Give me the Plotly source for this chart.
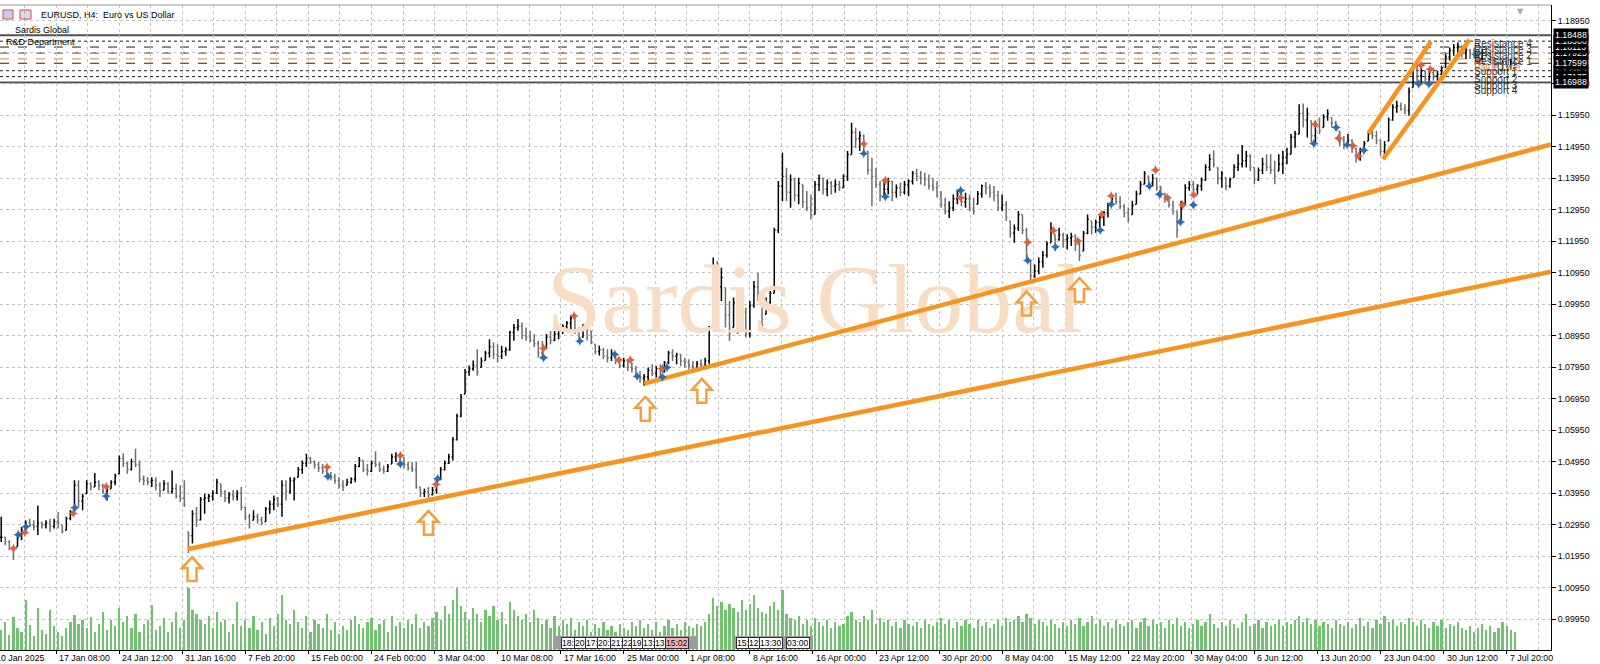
import plotly.graph_objects as go

# ---------------- DATA ----------------
# one bar = two H4 candles; index 0 is the left edge of the chart
low = [1.0240,1.0230,1.0214,1.0183,1.0225,1.0246,1.0267,1.0288,1.0277,1.0262,
       1.0283,1.0283,1.0272,1.0283,1.0283,1.0267,1.0277,1.0309,1.0341,1.0351,
       1.0341,1.0393,1.0404,1.0415,1.0404,1.0393,1.0372,1.0409,1.0420,1.0457,
       1.0478,1.0457,1.0467,1.0478,1.0430,1.0420,1.0420,1.0415,1.0404,1.0383,
       1.0404,1.0393,1.0393,1.0378,1.0367,1.0351,1.0205,1.0235,1.0288,1.0309,
       1.0330,1.0367,1.0372,1.0393,1.0383,1.0367,1.0362,1.0372,1.0372,1.0341,
       1.0309,1.0283,1.0309,1.0298,1.0293,1.0304,1.0330,1.0341,1.0351,1.0320,
       1.0372,1.0393,1.0372,1.0446,1.0457,1.0478,1.0488,1.0473,1.0462,1.0457,
       1.0446,1.0436,1.0425,1.0409,1.0402,1.0420,1.0425,1.0430,1.0478,1.0462,
       1.0451,1.0462,1.0478,1.0462,1.0457,1.0462,1.0488,1.0494,1.0483,1.0473,
       1.0467,1.0462,1.0409,1.0383,1.0383,1.0378,1.0388,1.0393,1.0436,1.0467,
       1.0488,1.0499,1.0562,1.0636,1.0710,1.0768,1.0784,1.0768,1.0795,1.0816,
       1.0826,1.0821,1.0810,1.0821,1.0831,1.0847,1.0879,1.0911,1.0884,1.0879,
       1.0874,1.0858,1.0826,1.0825,1.0857,1.0868,1.0878,1.0884,1.0900,1.0910,
       1.0910,1.0900,1.0878,1.0889,1.0880,1.0868,1.0836,1.0832,1.0821,1.0810,
       1.0815,1.0804,1.0793,1.0794,1.0783,1.0778,1.0762,1.0746,1.0736,1.0751,
       1.0767,1.0762,1.0767,1.0778,1.0804,1.0815,1.0804,1.0799,1.0794,1.0788,
       1.0788,1.0794,1.0794,1.0799,1.0804,1.0930,1.1026,1.1005,1.0921,1.0878,
       1.0921,1.0900,1.0910,1.0889,1.0889,1.0984,1.1005,1.0910,1.0963,1.0974,
       1.1030,1.1220,1.1322,1.1322,1.1301,1.1322,1.1312,1.1301,1.1291,1.1264,
       1.1280,1.1354,1.1343,1.1338,1.1343,1.1349,1.1354,1.1365,1.1386,1.1470,
       1.1491,1.1481,1.1470,1.1407,1.1306,1.1365,1.1322,1.1333,1.1343,1.1322,
       1.1333,1.1338,1.1343,1.1338,1.1375,1.1386,1.1375,1.1370,1.1359,1.1354,
       1.1333,1.1301,1.1280,1.1269,1.1291,1.1312,1.1306,1.1301,1.1291,1.1280,
       1.1312,1.1333,1.1343,1.1333,1.1322,1.1291,1.1291,1.1259,1.1206,1.1190,
       1.1227,1.1217,1.1132,1.1069,1.1079,1.1090,1.1111,1.1143,1.1190,1.1164,
       1.1196,1.1174,1.1169,1.1180,1.1164,1.1132,1.1164,1.1217,1.1217,1.1222,
       1.1233,1.1243,1.1270,1.1307,1.1312,1.1296,1.1270,1.1254,1.1280,1.1312,
       1.1344,1.1376,1.1365,1.1370,1.1355,1.1333,1.1317,1.1302,1.1280,1.1206,
       1.1249,1.1312,1.1355,1.1344,1.1344,1.1355,1.1386,1.1418,1.1429,1.1376,
       1.1365,1.1357,1.1365,1.1397,1.1418,1.1429,1.1429,1.1418,1.1376,1.1386,
       1.1408,1.1418,1.1408,1.1376,1.1418,1.1408,1.1439,1.1471,1.1492,1.1535,
       1.1556,1.1524,1.1508,1.1503,1.1535,1.1556,1.1577,1.1556,1.1545,1.1498,
       1.1487,1.1503,1.1476,1.1445,1.1450,1.1476,1.1513,1.1519,1.1503,1.1466,
       1.1460,1.1513,1.1577,1.1603,1.1609,1.1598,1.1593,1.1683,1.1694,1.1699,
       1.1694,1.1694,1.1704,1.1699,1.1709,1.1746,1.1768,1.1784,1.1789,1.1778,
       1.1773,1.1773,1.1775,1.1765,1.1770,1.1780,1.1760,1.1745,1.1725,1.1735,
       1.1745,1.1740,1.1750]
high = [1.0320,1.0256,1.0246,1.0225,1.0267,1.0288,1.0309,1.0314,1.0309,1.0356,
        1.0304,1.0309,1.0314,1.0314,1.0335,1.0293,1.0320,1.0341,1.0436,1.0436,
        1.0393,1.0436,1.0430,1.0459,1.0436,1.0425,1.0415,1.0436,1.0457,1.0515,
        1.0522,1.0494,1.0504,1.0536,1.0499,1.0451,1.0446,1.0446,1.0446,1.0430,
        1.0436,1.0430,1.0467,1.0425,1.0420,1.0436,1.0272,1.0341,1.0351,1.0383,
        1.0393,1.0393,1.0404,1.0441,1.0425,1.0404,1.0399,1.0404,1.0404,1.0415,
        1.0351,1.0330,1.0341,1.0330,1.0320,1.0351,1.0372,1.0388,1.0383,1.0436,
        1.0436,1.0446,1.0446,1.0478,1.0499,1.0520,1.0510,1.0499,1.0494,1.0488,
        1.0478,1.0462,1.0457,1.0446,1.0436,1.0441,1.0446,1.0488,1.0510,1.0499,
        1.0488,1.0499,1.0528,1.0494,1.0483,1.0488,1.0520,1.0525,1.0520,1.0510,
        1.0494,1.0494,1.0494,1.0415,1.0409,1.0415,1.0415,1.0446,1.0478,1.0499,
        1.0520,1.0573,1.0647,1.0710,1.0789,1.0800,1.0816,1.0852,1.0826,1.0847,
        1.0884,1.0874,1.0868,1.0863,1.0858,1.0911,1.0932,1.0948,1.0937,1.0921,
        1.0911,1.0900,1.0879,1.0878,1.0900,1.0910,1.0910,1.0921,1.0931,1.0942,
        1.0958,1.0952,1.0921,1.0931,1.0925,1.0910,1.0868,1.0864,1.0857,1.0852,
        1.0852,1.0836,1.0820,1.0825,1.0820,1.0810,1.0799,1.0783,1.0773,1.0794,
        1.0804,1.0799,1.0804,1.0815,1.0847,1.0852,1.0841,1.0836,1.0825,1.0820,
        1.0815,1.0815,1.0820,1.0825,1.0926,1.1143,1.1132,1.1111,1.1047,1.1005,
        1.1016,1.1005,1.0995,1.0984,1.1005,1.1069,1.1095,1.1026,1.1016,1.1037,
        1.1238,1.1386,1.1476,1.1428,1.1407,1.1396,1.1396,1.1375,1.1354,1.1343,
        1.1386,1.1407,1.1396,1.1391,1.1386,1.1391,1.1386,1.1407,1.1481,1.1571,
        1.1555,1.1544,1.1534,1.1481,1.1460,1.1428,1.1386,1.1391,1.1396,1.1386,
        1.1375,1.1381,1.1386,1.1391,1.1418,1.1425,1.1418,1.1412,1.1407,1.1396,
        1.1386,1.1354,1.1333,1.1322,1.1343,1.1359,1.1354,1.1349,1.1343,1.1333,
        1.1354,1.1375,1.1383,1.1375,1.1370,1.1354,1.1343,1.1322,1.1259,1.1248,
        1.1291,1.1280,1.1238,1.1132,1.1121,1.1143,1.1164,1.1195,1.1255,1.1217,
        1.1238,1.1222,1.1217,1.1222,1.1217,1.1201,1.1227,1.1280,1.1259,1.1264,
        1.1280,1.1291,1.1317,1.1344,1.1349,1.1338,1.1312,1.1302,1.1323,1.1355,
        1.1386,1.1418,1.1402,1.1408,1.1397,1.1370,1.1349,1.1339,1.1323,1.1291,
        1.1323,1.1376,1.1386,1.1386,1.1376,1.1397,1.1439,1.1471,1.1484,1.1429,
        1.1418,1.1397,1.1397,1.1439,1.1471,1.1500,1.1482,1.1471,1.1429,1.1429,
        1.1460,1.1471,1.1471,1.1450,1.1471,1.1482,1.1492,1.1535,1.1545,1.1630,
        1.1632,1.1619,1.1577,1.1577,1.1588,1.1598,1.1614,1.1588,1.1577,1.1545,
        1.1529,1.1535,1.1519,1.1492,1.1492,1.1513,1.1545,1.1550,1.1545,1.1519,
        1.1513,1.1588,1.1630,1.1641,1.1635,1.1630,1.1683,1.1757,1.1757,1.1752,
        1.1736,1.1741,1.1746,1.1736,1.1752,1.1789,1.1810,1.1821,1.1826,1.1815,
        1.1810,1.1805,1.1810,1.1800,1.1805,1.1815,1.1795,1.1780,1.1765,1.1770,
        1.1780,1.1775,1.1780]
close = [1.0255,1.0240,1.0220,1.0215,1.0260,1.0280,1.0300,1.0295,1.0290,1.0300,
         1.0295,1.0300,1.0290,1.0305,1.0300,1.0275,1.0315,1.0335,1.0420,1.0370,
         1.0385,1.0425,1.0415,1.0430,1.0420,1.0400,1.0405,1.0430,1.0450,1.0505,
         1.0490,1.0470,1.0495,1.0485,1.0440,1.0435,1.0430,1.0435,1.0420,1.0400,
         1.0425,1.0400,1.0410,1.0385,1.0380,1.0360,1.0260,1.0330,1.0310,1.0375,
         1.0380,1.0385,1.0395,1.0430,1.0400,1.0380,1.0390,1.0385,1.0395,1.0350,
         1.0320,1.0300,1.0320,1.0310,1.0300,1.0345,1.0360,1.0375,1.0360,1.0420,
         1.0400,1.0435,1.0440,1.0470,1.0490,1.0505,1.0495,1.0485,1.0475,1.0465,
         1.0455,1.0445,1.0435,1.0420,1.0415,1.0430,1.0440,1.0480,1.0500,1.0470,
         1.0465,1.0490,1.0485,1.0470,1.0465,1.0480,1.0510,1.0515,1.0495,1.0485,
         1.0475,1.0470,1.0415,1.0395,1.0400,1.0390,1.0405,1.0440,1.0470,1.0490,
         1.0510,1.0565,1.0640,1.0700,1.0780,1.0790,1.0800,1.0780,1.0815,1.0840,
         1.0860,1.0835,1.0830,1.0845,1.0850,1.0905,1.0920,1.0925,1.0895,1.0890,
         1.0880,1.0870,1.0840,1.0840,1.0890,1.0880,1.0900,1.0915,1.0925,1.0935,
         1.0950,1.0910,1.0890,1.0920,1.0915,1.0875,1.0845,1.0850,1.0830,1.0825,
         1.0840,1.0815,1.0800,1.0815,1.0795,1.0790,1.0770,1.0760,1.0765,1.0785,
         1.0775,1.0790,1.0780,1.0810,1.0840,1.0830,1.0835,1.0815,1.0810,1.0800,
         1.0795,1.0805,1.0800,1.0815,1.0920,1.1090,1.1050,1.1080,1.0960,1.0900,
         1.1000,1.0930,1.0970,1.0900,1.0990,1.1050,1.1030,1.0930,1.1000,1.1030,
         1.1230,1.1370,1.1400,1.1350,1.1390,1.1340,1.1380,1.1320,1.1300,1.1280,
         1.1375,1.1395,1.1360,1.1380,1.1370,1.1375,1.1365,1.1400,1.1470,1.1540,
         1.1520,1.1530,1.1480,1.1420,1.1400,1.1375,1.1340,1.1360,1.1385,1.1350,
         1.1365,1.1350,1.1375,1.1385,1.1410,1.1400,1.1395,1.1390,1.1370,1.1365,
         1.1340,1.1310,1.1290,1.1300,1.1330,1.1345,1.1320,1.1330,1.1300,1.1290,
         1.1345,1.1370,1.1365,1.1350,1.1340,1.1300,1.1310,1.1270,1.1220,1.1235,
         1.1280,1.1230,1.1150,1.1085,1.1100,1.1130,1.1150,1.1185,1.1235,1.1200,
         1.1215,1.1200,1.1205,1.1210,1.1185,1.1150,1.1220,1.1265,1.1240,1.1255,
         1.1270,1.1285,1.1310,1.1330,1.1320,1.1305,1.1285,1.1265,1.1310,1.1345,
         1.1375,1.1410,1.1380,1.1395,1.1365,1.1345,1.1330,1.1310,1.1290,1.1230,
         1.1300,1.1365,1.1375,1.1360,1.1370,1.1390,1.1430,1.1455,1.1440,1.1395,
         1.1410,1.1370,1.1390,1.1430,1.1440,1.1450,1.1465,1.1430,1.1390,1.1420,
         1.1440,1.1430,1.1420,1.1400,1.1440,1.1460,1.1470,1.1525,1.1535,1.1600,
         1.1580,1.1600,1.1530,1.1560,1.1545,1.1590,1.1600,1.1570,1.1560,1.1515,
         1.1500,1.1515,1.1490,1.1460,1.1465,1.1505,1.1535,1.1530,1.1515,1.1480,
         1.1500,1.1580,1.1620,1.1625,1.1615,1.1610,1.1670,1.1740,1.1720,1.1735,
         1.1710,1.1730,1.1720,1.1725,1.1745,1.1780,1.1800,1.1810,1.1815,1.1795,
         1.1800,1.1790,1.1785,1.1775,1.1795,1.1790,1.1770,1.1755,1.1740,1.1760,
         1.1750,1.1765,1.1760]
volume = [20,28,15,33,22,18,50,25,14,42, 20,16,40,24,18,14,22,28,35,26,
          30,22,33,18,26,38,20,30,24,42, 28,34,22,36,18,26,30,45,20,24,
          32,18,28,38,22,30,62,40,36,30, 26,34,22,38,28,30,18,26,48,24,
          30,22,34,20,28,16,32,24,36,55, 30,26,40,28,22,34,18,30,26,22,
          36,20,28,16,24,20,30,34,26,22, 28,32,20,26,30,18,34,24,28,22,
          30,26,36,22,28,24,32,38,30,44, 36,50,62,44,38,30,42,36,28,40,
          34,44,30,38,26,48,40,34,30,36, 28,40,32,26,30,22,34,24,30,26,
          32,20,28,24,30,18,26,22,28,20, 24,18,26,22,20,28,24,30,22,26,
          20,28,18,24,30,22,26,20,28,24, 22,26,24,28,36,52,44,48,40,46,
          42,38,50,40,46,55,42,38,36,44, 48,40,60,36,32,30,34,26,30,24,
          32,28,24,30,22,28,24,26,34,38, 30,28,34,30,40,26,32,28,30,24,
          28,22,30,26,24,28,22,30,26,24, 28,32,26,30,22,28,24,30,26,22,
          30,24,28,22,26,30,24,32,28,30, 34,28,36,32,26,30,28,24,30,26,
          22,28,24,30,26,32,24,28,34,26, 30,24,28,22,30,26,24,28,30,22,
          28,32,24,30,26,28,22,30,26,32, 24,28,22,26,30,24,28,36,26,22,
          28,24,30,26,22,28,36,24,26,30, 22,28,24,26,30,24,28,26,30,34,
          28,32,26,30,24,28,26,22,30,26, 24,28,22,26,32,24,28,22,30,26,
          34,28,30,24,28,26,32,28,24,30, 26,22,28,24,30,22,26,24,28,22,
          20,24,18,22,26,20,24,18,22,28, 24,20,18]

first_date_label = "10 Jan 2025"
date_labels = ["17 Jan 08:00", "24 Jan 12:00", "31 Jan 16:00", "7 Feb 20:00", "15 Feb 00:00",
               "24 Feb 00:00", "3 Mar 04:00", "10 Mar 08:00", "17 Mar 16:00", "25 Mar 00:00",
               "1 Apr 08:00", "8 Apr 16:00", "16 Apr 00:00", "23 Apr 12:00", "30 Apr 20:00",
               "8 May 04:00", "15 May 12:00", "22 May 20:00", "30 May 04:00", "6 Jun 12:00",
               "13 Jun 20:00", "23 Jun 04:00", "30 Jun 12:00", "7 Jul 20:00"]
price_ticks = [0.99950, 1.00950, 1.01950, 1.02950, 1.03950, 1.04950, 1.05950, 1.06950, 1.07950,
               1.08950, 1.09950, 1.10950, 1.11950, 1.12950, 1.13950, 1.14950, 1.15950, 1.16950,
               1.17950, 1.18950]
price_tick_text = ["0.99950", "1.00950", "1.01950", "1.02950", "1.03950", "1.04950", "1.05950",
                   "1.06950", "1.07950", "1.08950", "1.09950", "1.10950", "1.11950", "1.12950",
                   "1.13950", "1.14950", "1.15950", "1.16950", "1.17950", "1.18950"]

# pivot levels (name, price, axis tag text)
level_names = ["Resistance 4", "Resistance 3", "Resistance 2", "Resistance 1", "Value Line",
               "Support 1", "Support 2", "Support 3", "Support 4"]
level_prices = [1.18488, 1.18300, 1.18113, 1.17925, 1.17738, 1.17599, 1.17362, 1.17175, 1.16988]
level_tags = ["1.18488", "1.18300", "1.18113", "1.17925", "", "1.17599", "1.17362", "1.17175", "1.16988"]

# drawn trend lines (bar index, price)
trend_lines = [
    ([45.9, 380.9], [1.0218, 1.1098]),
    ([158.0, 380.9], [1.0743, 1.1502]),
    ([336.0, 351.4], [1.1537, 1.1829]),
    ([339.6, 360.9], [1.1455, 1.1835]),
]
arrow_idx = [46.9, 105.0, 158.3, 172.2, 252.0, 265.0]
arrow_price = [1.0154, 1.0301, 1.0663, 1.0720, 1.0997, 1.1040]

red_idx = [3.0, 5.8, 17.7, 25.8, 80.1, 98.1, 106.9, 133.3, 140.8, 151.8, 154.6, 162.5, 212.0,
           217.3, 235.8, 252.3, 258.6, 264.6, 270.5, 272.8, 283.7, 286.6, 290.4, 293.1, 322.9,
           328.7, 332.2, 333.6, 349.0, 351.2, 363.1]
red_price = [1.0220, 1.0270, 1.0331, 1.0416, 1.0478, 1.0515, 1.0423, 1.0855, 1.0958, 1.0818,
             1.0818, 1.0791, 1.1504, 1.1388, 1.1333, 1.1192, 1.1229, 1.1196, 1.1280, 1.1339,
             1.1421, 1.1333, 1.1310, 1.1342, 1.1566, 1.1522, 1.1498, 1.1466, 1.1754, 1.1741,
             1.1769]
blue_idx = [4.2, 6.1, 18.1, 25.8, 80.3, 98.1, 107.3, 133.3, 142.2, 150.8, 156.3, 162.5, 163.6,
            212.0, 217.3, 235.8, 252.3, 259.1, 270.1, 272.8, 282.2, 284.7, 289.8, 293.0, 322.6,
            328.1, 330.8, 334.9, 348.4, 350.9, 362.5]
blue_price = [1.0263, 1.0289, 1.0349, 1.0386, 1.0448, 1.0488, 1.0441, 1.0825, 1.0878, 1.0836,
              1.0766, 1.0764, 1.0794, 1.1473, 1.1336, 1.1356, 1.1134, 1.1177, 1.1230, 1.1312,
              1.1370, 1.1344, 1.1256, 1.1310, 1.1505, 1.1556, 1.1501, 1.1484, 1.1694, 1.1694,
              1.1788]

event_tags = ["18:30", "20:00", "17:00", "20:00", "21:00", "22:00", "19:00", "13:30", "13:30",
              "15:02", "15:00", "12:00", "13:30", "03:00"]

# ---------------- GEOMETRY / STYLE ----------------
W, H = 1600, 664
ML, MR, MT, MB = 0, 49, 5, 14
PW, PH = W - ML - MR, H - MT - MB
X_RANGE = [-0.3, 380.9]
Y_RANGE = [0.98972, 1.19448]
BARS_PER_LABEL = 15.5
FIRST_LABEL = 13.5
FONT = "Liberation Sans"
GRID = "#c4c4c4"
ORANGE = "#f7931e"


def px(xp):
    return xp / PW


def py(yp):
    return (PH + MT - yp) / PH


bar_x = list(range(len(close)))
opens = [close[0]] + close[:-1]
opens = [min(max(o, l), h) for o, l, h in zip(opens, low, high)]

label_pos = [FIRST_LABEL + BARS_PER_LABEL * k for k in range(len(date_labels))]
mid_pos = [FIRST_LABEL - BARS_PER_LABEL / 2 + BARS_PER_LABEL * k for k in range(len(date_labels) + 1)]

fig = go.Figure()

# watermark (drawn first, behind bars)
fig.add_trace(go.Scatter(x=[200.0], y=[1.0985], mode="text", text=["Sardis Global"],
                         textfont=dict(family="Liberation Serif", size=98, color="rgb(248,220,196)"),
                         hoverinfo="skip", cliponaxis=False))

fig.add_trace(go.Ohlc(x=bar_x, open=opens, high=high, low=low, close=close,
                      increasing=dict(line=dict(color="#000000", width=1.5)),
                      decreasing=dict(line=dict(color="#6e6e6e", width=1.5)),
                      tickwidth=0.3, hoverinfo="skip"))

for tx, ty in trend_lines:
    fig.add_trace(go.Scatter(x=tx, y=ty, mode="lines", line=dict(color=ORANGE, width=4.5),
                             hoverinfo="skip"))

fig.add_trace(go.Scatter(x=red_idx, y=red_price, mode="markers",
                         marker=dict(symbol="star-diamond", size=7, color="#e0603c"), hoverinfo="skip"))
fig.add_trace(go.Scatter(x=blue_idx, y=blue_price, mode="markers",
                         marker=dict(symbol="star-diamond", size=7, color="#2a6cb0"), hoverinfo="skip"))

fig.add_trace(go.Bar(x=bar_x, y=volume, yaxis="y2", width=0.55,
                     marker=dict(color="#72c272", line=dict(width=0)), hoverinfo="skip"))

shapes = []
# pivot level lines
level_styles = [("solid", "#505050", 2), ("dot", "#202020", 1), ("dash", "#202020", 1),
                ("dash", "#202020", 1), ("dash", "#e0a060", 1.2), ("dash", "#202020", 1),
                ("dot", "#202020", 1), ("dot", "#202020", 1), ("solid", "#505050", 2)]
for lp, (dash, col, wd) in zip(level_prices, level_styles):
    shapes.append(dict(type="line", xref="paper", x0=0, x1=1, yref="y", y0=lp, y1=lp,
                       line=dict(color=col, width=wd, dash=dash), layer="below"))
# hollow up arrows (pixel sized, anchored on data)
arrow_path = "M0,12 L10,1 L4.5,1 L4.5,-12 L-4.5,-12 L-4.5,1 L-10,1 Z"
for ai, ap in zip(arrow_idx, arrow_price):
    shapes.append(dict(type="path", xref="x", yref="y", xsizemode="pixel", ysizemode="pixel",
                       xanchor=ai, yanchor=ap, path=arrow_path,
                       line=dict(color="#f3a040", width=2.5), fillcolor="rgba(255,255,255,0)"))
# top frame line
shapes.append(dict(type="line", xref="paper", yref="paper", x0=0, x1=1, y0=1, y1=1,
                   line=dict(color="#9a9a9a", width=1)))
# header icons
shapes.append(dict(type="rect", xref="paper", yref="paper", x0=px(3), x1=px(13), y0=py(19), y1=py(10),
                   line=dict(color="#d04a4a", width=1), fillcolor="rgba(90,120,200,0.35)"))
shapes.append(dict(type="rect", xref="paper", yref="paper", x0=px(20), x1=px(31), y0=py(19), y1=py(10),
                   line=dict(color="#d04a4a", width=1), fillcolor="rgba(90,120,200,0.25)"))
# event strip backgrounds
shapes.append(dict(type="rect", xref="paper", yref="paper", x0=px(553), x1=px(697), y0=py(649), y1=py(636),
                   line=dict(width=0), fillcolor="#9c9c9c"))
shapes.append(dict(type="rect", xref="paper", yref="paper", x0=px(733), x1=px(813), y0=py(649), y1=py(636),
                   line=dict(width=0), fillcolor="#9c9c9c"))

annotations = []
annotations.append(dict(xref="paper", yref="paper", x=px(39), y=py(15), xanchor="left", yanchor="middle",
                        text="EURUSD, H4:  Euro vs US Dollar", showarrow=False,
                        font=dict(family=FONT, size=9, color="#000000")))
annotations.append(dict(xref="paper", yref="paper", x=px(13), y=py(30), xanchor="left", yanchor="middle",
                        text="Sardis Global", showarrow=False, font=dict(family=FONT, size=9, color="#000000")))
annotations.append(dict(xref="paper", yref="paper", x=px(4), y=py(41.5), xanchor="left", yanchor="middle",
                        text="R&amp;D Department", showarrow=False, font=dict(family=FONT, size=9, color="#000000")))
# date labels along the time axis (left-aligned after each tick)
annotations.append(dict(xref="paper", yref="paper", x=0, y=0, xanchor="left", yanchor="top", xshift=-6,
                        yshift=-1, text=first_date_label, showarrow=False,
                        font=dict(family=FONT, size=8.8, color="#000000")))
for lx, lt in zip(label_pos, date_labels):
    annotations.append(dict(xref="x", yref="paper", x=lx, y=0, xanchor="left", yanchor="top", xshift=1,
                            yshift=-1, text=lt, showarrow=False,
                            font=dict(family=FONT, size=8.8, color="#000000")))
# level names
for name, lp in zip(level_names, level_prices):
    col = "#d98a3a" if name == "Value Line" else "#303030"
    annotations.append(dict(xref="x", yref="y", x=361.5, y=lp, xanchor="left", yanchor="top", yshift=-1,
                            text=name, showarrow=False, font=dict(family=FONT, size=10, color=col)))
# level price tags on the axis
order = [3, 2, 1, 0, 6, 7, 8, 5]
for k in order:
    annotations.append(dict(xref="paper", yref="y", x=1, y=level_prices[k], xanchor="left", yanchor="middle",
                            xshift=2, text=level_tags[k], showarrow=False, bgcolor="#000000", borderpad=1,
                            font=dict(family=FONT, size=8.8, color="#ffffff")))
# event boxes at the bottom
event_left = [561, 574, 585, 597, 610, 622, 631, 642, 654, 665, 736, 748, 759, 786]
for left, tag in zip(event_left, event_tags):
    bg = "#f4b4b4" if tag == "15:02" else "#ffffff"
    annotations.append(dict(xref="paper", yref="paper", x=px(left), y=py(642.5), xanchor="left",
                            yanchor="middle", text=tag, showarrow=False, bgcolor=bg, bordercolor="#303030",
                            borderwidth=1, borderpad=0, font=dict(family=FONT, size=8.5, color="#000000")))
# chart shift marker
annotations.append(dict(xref="paper", yref="paper", x=px(1520), y=1, xanchor="center", yanchor="top",
                        text="▼", showarrow=False, font=dict(family="DejaVu Sans", size=8, color="#a8a8a8")))

fig.update_layout(
    width=W, height=H, margin=dict(l=ML, r=MR, t=MT, b=MB, pad=0, autoexpand=False),
    paper_bgcolor="#ffffff", plot_bgcolor="#ffffff", showlegend=False,
    font=dict(family=FONT, size=9, color="#000000"),
    shapes=shapes, annotations=annotations, bargap=0,
    xaxis=dict(range=X_RANGE, tickmode="array", tickvals=label_pos, showticklabels=False,
               ticks="outside", ticklen=3, tickcolor="#000000", automargin=False,
               showline=True, linecolor="#000000", linewidth=1, zeroline=False,
               showgrid=True, gridcolor=GRID, griddash="3px,3px", gridwidth=1,
               minor=dict(tickvals=mid_pos, showgrid=True, gridcolor=GRID, griddash="3px,3px", ticks=""),
               rangeslider=dict(visible=False), fixedrange=True),
    yaxis=dict(range=Y_RANGE, side="right", tickmode="array", tickvals=price_ticks, ticktext=price_tick_text,
               ticks="outside", ticklen=4, tickcolor="#000000", automargin=False,
               tickfont=dict(family=FONT, size=8.8, color="#000000"),
               showline=True, linecolor="#000000", linewidth=1, zeroline=False,
               showgrid=True, gridcolor=GRID, griddash="3px,3px", gridwidth=1, fixedrange=True),
    yaxis2=dict(overlaying="y", range=[0, PH], visible=False, fixedrange=True, automargin=False),
)

fig.write_html("out.html", config=dict(displayModeBar=False),
               post_script="document.body.style.margin='0px';document.body.style.overflow='hidden';")
